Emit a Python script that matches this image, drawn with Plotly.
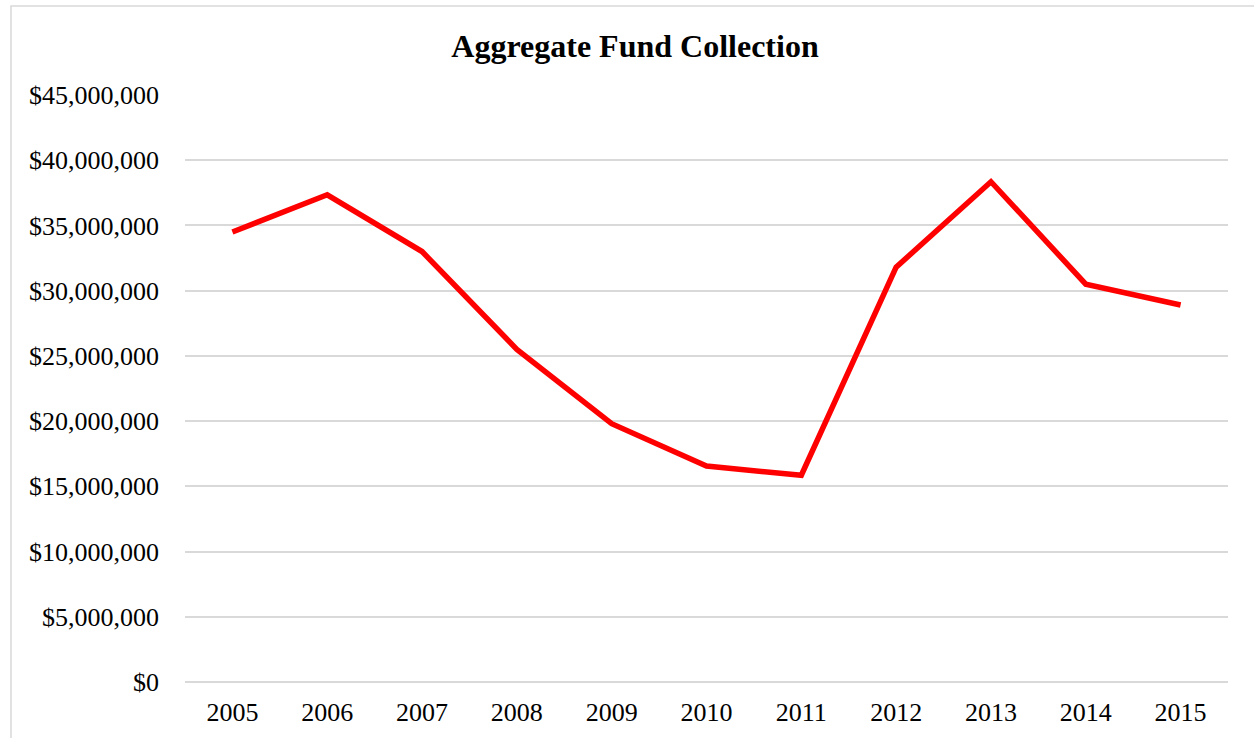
import plotly.graph_objects as go

years = ["2005", "2006", "2007", "2008", "2009", "2010", "2011", "2012", "2013", "2014", "2015"]
collections = [34500000, 37350000, 33000000, 25500000, 19800000, 16550000, 15850000,
               31800000, 38350000, 30500000, 28900000]

W, H = 1254, 738
L, T = 185, 95
R, B = W - 1228, H - 682
pw, ph = W - L - R, H - T - B

fig = go.Figure()
fig.add_trace(go.Scatter(
    x=years, y=collections, mode="lines",
    line=dict(color="#FF0000", width=5.5),
    hoverinfo="x+y",
))

font_family = "Liberation Serif, Times New Roman, serif"

fig.update_layout(
    width=W, height=H,
    margin=dict(l=L, r=R, t=T, b=B),
    paper_bgcolor="white", plot_bgcolor="white",
    showlegend=False,
    font=dict(family=font_family, size=26, color="#000000"),
    title=dict(text="<b>Aggregate Fund Collection</b>", x=635 / W, xanchor="center",
               y=1 - 46 / H, yanchor="middle",
               font=dict(family=font_family, size=32, color="#000000")),
    xaxis=dict(type="category", range=[-0.5, 10.5], showgrid=False,
               showline=False, ticks="", ticklabelstandoff=12,
               tickfont=dict(size=26)),
    yaxis=dict(range=[0, 45000000], dtick=5000000, tickprefix="$", tickformat=",",
               showgrid=True, gridcolor="#d9d9d9", gridwidth=1.6,
               zeroline=True, zerolinecolor="#d9d9d9", zerolinewidth=1.6,
               showline=False, ticks="", ticklabelstandoff=25,
               tickfont=dict(size=26)),
)

# outer chart border (cropped on right/bottom like the reference)
fig.add_shape(type="rect", xref="paper", yref="paper",
              x0=(11 - L) / pw, x1=(W + 10 - L) / pw,
              y0=-(B + 10) / ph, y1=1 + (T - 6) / ph,
              line=dict(color="#d9d9d9", width=1.5), fillcolor="rgba(0,0,0,0)",
              layer="below")

fig.write_html(
    "out.html",
    config={"displayModeBar": False},
    post_script="document.body.style.margin='0';document.body.style.overflow='hidden';",
)
